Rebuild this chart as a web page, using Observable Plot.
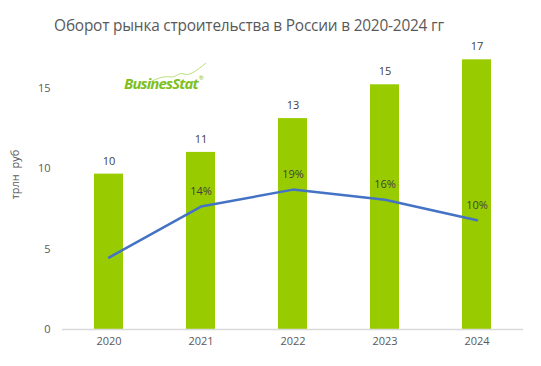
<!DOCTYPE html>
<html>
<head>
<meta charset="utf-8">
<script src="https://cdn.jsdelivr.net/npm/d3@7"></script>
<script src="https://cdn.jsdelivr.net/npm/@observablehq/plot@0.6"></script>
<style>
  body { margin: 0; background: #fff; font-family: "Open Sans", "DejaVu Sans", sans-serif; }
  #wrap { position: relative; width: 541px; height: 366px; }
  #title { position: absolute; left: 0; width: 498px; top: 15px; text-align: center; font-size: 15.4px; color: #595959; font-family: "Open Sans", sans-serif; letter-spacing: -0.2px; }
  #logo { position: absolute; left: 124px; top: 73px; font-family: "Open Sans", sans-serif; font-weight: 700; font-style: italic; font-size: 15px; color: #7fbf1f; letter-spacing: -0.9px; }
  #logo sup { font-size: 6px; font-style: normal; font-weight: 400; vertical-align: 9px; margin-left: 1px; }
  #swoosh { position: absolute; left: 148px; top: 62px; }
</style>
</head>
<body>
<div id="wrap">
  <div id="chart"></div>
  <div id="title">Оборот рынка строительства в России в 2020-2024 гг</div>
  <svg id="swoosh" width="60" height="22"><path d="M2,20 C10,16 16,14 22,15 C28,16 30,10 36,12 C42,14 48,9 58,1" fill="none" stroke="#a9d65a" stroke-width="0.8"/></svg>
  <div id="logo">BusinesStat<sup>®</sup></div>
</div>
<script>
const years = ["2020", "2021", "2022", "2023", "2024"];
const turnover = [9.65, 11.0, 13.1, 15.2, 16.75];
const turnoverLabels = ["10", "11", "13", "15", "17"];
const growth = [-1, 14, 19, 16, 10];
const growthLabels = ["", "14%", "19%", "16%", "10%"];
const yTicks = [0, 5, 10, 15];

// secondary (hidden) axis for growth, expressed in primary units
const g0 = 4.68, gk = 0.211;
const bars = years.map((y, i) => ({year: y, value: turnover[i], label: turnoverLabels[i]}));
const line = years.map((y, i) => ({year: y, g: growth[i], pos: g0 + gk * growth[i], label: growthLabels[i]}));

const chart = Plot.plot({
  width: 541,
  height: 366,
  marginLeft: 62,
  marginRight: 18,
  marginTop: 7,
  marginBottom: 37,
  style: {fontFamily: "Open Sans, sans-serif", fontSize: "11px", color: "#595959", background: "#fff"},
  x: {domain: years, paddingInner: 0.685, paddingOuter: 0.3425, label: null, tickSize: 0, tickPadding: 8},
  y: {domain: [0, 20], ticks: yTicks, label: null, tickSize: 0, tickPadding: 12},
  marks: [
    Plot.barY(bars, {x: "year", y: "value", fill: "#99cc00"}),
    Plot.ruleY([0], {stroke: "#d9d9d9", strokeWidth: 1.5}),
    Plot.text(bars, {x: "year", y: "value", text: "label", dy: -13, fill: "#404040", fontSize: 11}),
    Plot.line(line, {x: "year", y: "pos", stroke: "#4472c4", strokeWidth: 2.5}),
    Plot.text(line, {x: "year", y: "pos", text: "label", dy: -15, fill: "#404040", fontSize: 11}),
    Plot.text(["трлн  руб"], {frameAnchor: "left", textAnchor: "middle", dx: -47, dy: 6, rotate: -90, fill: "#595959", fontSize: 11, style: "white-space: pre"})
  ]
});
document.getElementById("chart").appendChild(chart);
</script>
</body>
</html>
